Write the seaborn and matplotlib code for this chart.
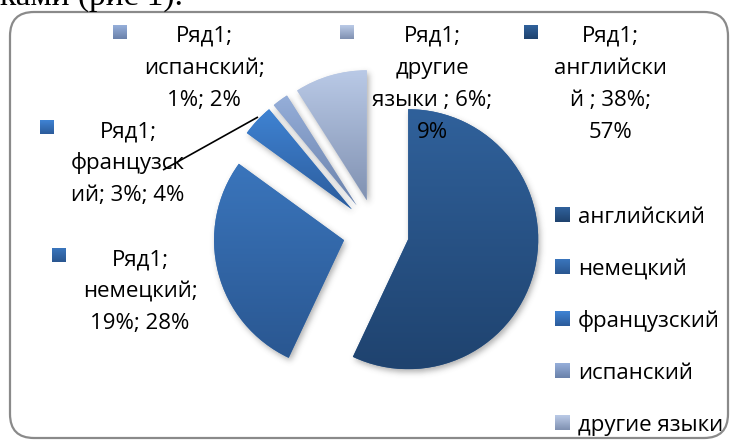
import numpy as np
import matplotlib
matplotlib.use("Agg")
import matplotlib.pyplot as plt
import seaborn as sns
from matplotlib.patches import FancyBboxPatch
from matplotlib.colors import to_rgb

# ---- data -------------------------------------------------------------
series_name = "Ряд1"
categories = ["английский", "немецкий", "французский", "испанский", "другие языки"]
values = [38, 19, 3, 1, 6]     # value of each language, %
shares = [57, 28, 4, 2, 9]     # share of the total, %

# ---- style ------------------------------------------------------------
W, H = 731, 441
sns.set_theme(style="white")
plt.rcParams["font.family"] = ["Open Sans", "DejaVu Sans"]
FS = 16

# top / bottom gradient colour of every slice
grad_top = ["#30619b", "#3a75bc", "#3f83d3", "#95aed9", "#b9c9e6"]
grad_bot = ["#1f436f", "#2a5791", "#2c5c9c", "#6b82ab", "#8192b2"]
palette = sns.blend_palette([grad_top[0], grad_bot[0]], 3)  # base look

fig = plt.figure(figsize=(W / 100, H / 100), dpi=100)
ax = fig.add_axes([0, 0, 1, 1])
ax.set_axis_off()


def gy(y):
    """pixel row (from top) -> data y"""
    return H - y


def vgrad(top, bot, n=64):
    t = np.linspace(0, 1, n)[:, None]
    a, b = np.array(to_rgb(top)), np.array(to_rgb(bot))
    return (b[None, :] * (1 - t) + a[None, :] * t)[:, None, :]


# chart frame
frame = FancyBboxPatch((10, gy(438)), 718, 426,
                       boxstyle="round,pad=0,rounding_size=24",
                       fc="white", ec="#8a8a8a", lw=1.6, zorder=0.5)
ax.add_patch(frame)

# ---- pie --------------------------------------------------------------
R = 130
wedges, _ = ax.pie(shares, startangle=90, counterclock=False, radius=R,
                   center=(376, gy(232)), explode=[33] * len(shares),
                   colors=grad_top, frame=True,
                   wedgeprops=dict(linewidth=0, zorder=2))

# soft drop shadow under the slices
xs = np.arange(W) + 0.5
ys = gy(np.arange(H) + 0.5)
XX, YY = np.meshgrid(xs, ys)
pts = np.column_stack([XX.ravel(), YY.ravel()])
mask = np.zeros(H * W, dtype=float)
for w in wedges:
    mask = np.maximum(mask, w.get_path().contains_points(pts).astype(float))
mask = mask.reshape(H, W)
k = np.exp(-0.5 * (np.arange(-9, 10) / 3.0) ** 2)
k /= k.sum()
blur = np.apply_along_axis(lambda r: np.convolve(r, k, mode="same"), 1, mask)
blur = np.apply_along_axis(lambda c: np.convolve(c, k, mode="same"), 0, blur)
blur = np.roll(np.roll(blur, 3, axis=0), 2, axis=1)
shadow = np.zeros((H, W, 4))
shadow[..., :3] = 0.3
shadow[..., 3] = blur * 0.45
ax.imshow(shadow, extent=[0, W, 0, H], origin="upper", zorder=1,
          interpolation="bilinear", aspect="auto")

# vertical gradient fill of each slice
for w, top, bot in zip(wedges, grad_top, grad_bot):
    v = w.get_path().vertices
    im = ax.imshow(vgrad(top, bot), origin="lower", aspect="auto",
                   extent=[v[:, 0].min(), v[:, 0].max(), v[:, 1].min(), v[:, 1].max()],
                   zorder=2.1, interpolation="bilinear")
    im.set_clip_path(w)


def key(x0, ytop, top, bot, s=15):
    ax.imshow(vgrad(top, bot, 16), origin="lower", aspect="auto",
              extent=[x0, x0 + s, gy(ytop + s), gy(ytop)], zorder=3)


# ---- data labels ------------------------------------------------------
label_lines = [
    [f"{series_name};", "английски", f"й ; {values[0]}%;", f"{shares[0]}%"],
    [f"{series_name};", f"{categories[1]};", f"{values[1]}%; {shares[1]}%"],
    [f"{series_name};", "французск", f"ий; {values[2]}%; {shares[2]}%"],
    [f"{series_name};", f"{categories[3]};", f"{values[3]}%; {shares[3]}%"],
    [f"{series_name};", "другие", f"языки ; {values[4]}%;", f"{shares[4]}%"],
]
# (text centre x, first baseline, key left x)
label_pos = [(610, 42, 524), (140, 265, 52), (128, 137, 40),
             (204, 42, 113), (432, 42, 340)]
for i, lines in enumerate(label_lines):
    cx, b0, kx = label_pos[i]
    key(kx, b0 - 17, grad_top[i], grad_bot[i], 14)
    for j, s in enumerate(lines):
        ax.text(cx, gy(b0 + 32 * j), s, ha="center", va="baseline",
                fontsize=FS, color="black", zorder=4)

# leader line for the small slice label
ax.plot([163, 258], [gy(170), gy(117)], color="black", lw=1.2, zorder=4,
        solid_capstyle="butt")

# ---- legend -----------------------------------------------------------
for i, cat in enumerate(categories):
    yb = 223 + 52 * i
    key(555, yb - 16, grad_top[i], grad_bot[i], 15)
    ax.text(578, gy(yb), cat, ha="left", va="baseline", fontsize=FS,
            color="black", zorder=4)

# running text of the page above the chart
ax.text(0, gy(5), "ками (рис 1).", ha="left", va="baseline",
        family=["Liberation Serif"], fontsize=24, color="black")

ax.set_xlim(0, W)
ax.set_ylim(0, H)
fig.savefig("out.png", dpi=100)
